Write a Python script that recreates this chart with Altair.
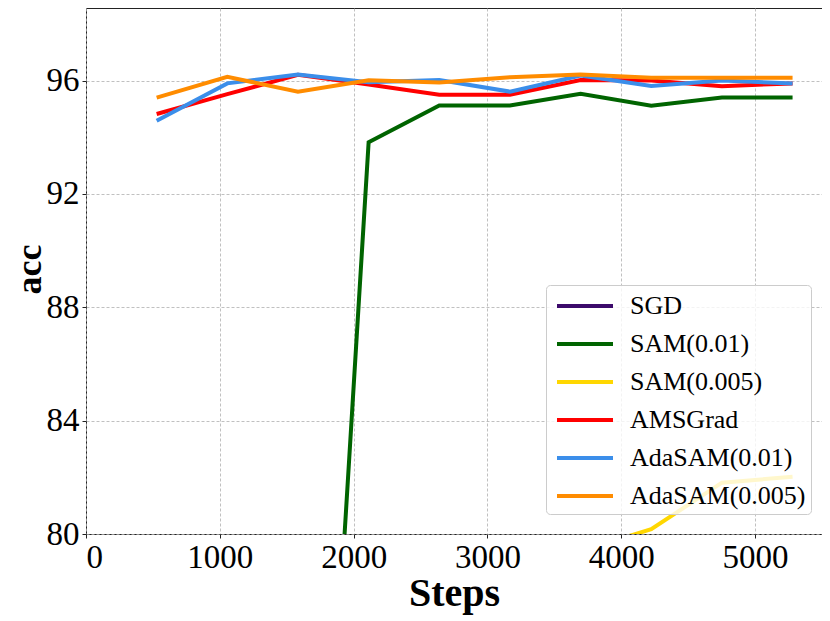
import altair as alt
import pandas as pd

steps = [528, 1056, 1584, 2112, 2640, 3168, 3696, 4224, 4752, 5280]
series_names = ["SGD", "SAM(0.01)", "SAM(0.005)", "AMSGrad", "AdaSAM(0.01)", "AdaSAM(0.005)"]
series_colors = ["#3c0a6b", "#006400", "#ffd700", "#ff0000", "#3b8eea", "#ff8c00"]

sgd = [10.0, 10.0, 10.0, 10.0, 10.0, 10.0, 10.0, 10.0, 10.0, 10.0]
sam_001 = [10.0, 10.0, 53.2, 93.82, 95.12, 95.12, 95.53, 95.11, 95.40, 95.40]
sam_0005 = [10.0, 10.0, 10.0, 30.0, 55.0, 70.0, 79.4, 80.17, 81.81, 82.02]
amsgrad = [94.82, 95.52, 96.20, 95.86, 95.50, 95.50, 96.02, 96.00, 95.80, 95.90]
adasam_001 = [94.58, 95.90, 96.21, 95.94, 96.02, 95.61, 96.18, 95.81, 96.00, 95.90]
adasam_0005 = [95.40, 96.13, 95.61, 96.01, 95.93, 96.12, 96.21, 96.10, 96.10, 96.10]

all_series = [sgd, sam_001, sam_0005, amsgrad, adasam_001, adasam_0005]

rows = []
for name, vals in zip(series_names, all_series):
    for s, v in zip(steps, vals):
        rows.append({"Steps": s, "acc": v, "method": name})
df = pd.DataFrame(rows)

FONT = "Liberation Serif"

color = alt.Color(
    "method:N",
    scale=alt.Scale(domain=series_names, range=series_colors),
    sort=series_names,
    legend=alt.Legend(
        title=None,
        orient="none",
        legendX=460,
        legendY=277,
        padding=5,
        rowPadding=9,
        labelFont=FONT,
        labelFontSize=26,
        labelColor="black",
        labelLimit=400,
        labelOffset=43,
        symbolType="M-1,0H3",
        symbolSize=784,
        symbolOffset=4,
        symbolStrokeWidth=4,
        fillColor="rgba(255,255,255,0.8)",
        strokeColor="#cccccc",
        cornerRadius=4,
    ),
)

x = alt.X(
    "Steps:Q",
    scale=alt.Scale(domain=[0, 5500], nice=False),
    axis=alt.Axis(
        values=[0, 1000, 2000, 3000, 4000, 5000],
        format="d",
        title="Steps",
        titleBaseline="alphabetic",
        titleY=71,
    ),
)
y = alt.Y(
    "acc:Q",
    scale=alt.Scale(domain=[80, 98.56], nice=False, zero=False),
    axis=alt.Axis(
        values=[80, 84, 88, 92, 96],
        title="acc",
        titleFontSize=36,
        titleBaseline="alphabetic",
        titleX=-46,
        titleY=261,
    ),
)

layers = []
for name in series_names:
    layers.append(
        alt.Chart(df)
        .transform_filter(alt.datum.method == name)
        .mark_line(clip=True, strokeWidth=4)
        .encode(x=x, y=y, color=color)
    )

chart = (
    alt.layer(*layers)
    .properties(
        width=736,
        height=526,
        autosize=alt.AutoSizeParams(type="none"),
        padding={"left": 78, "top": 0, "right": 0, "bottom": 87},
    )
    .configure_view(stroke="#222222", strokeWidth=1)
    .configure_axis(
        labelFont=FONT,
        labelFontSize=33,
        labelColor="black",
        titleFont=FONT,
        titleFontSize=40,
        titleFontWeight="bold",
        titleColor="black",
        tickColor="#222222",
        tickSize=4,
        tickWidth=1,
        labelPadding=3,
        domain=False,
        gridColor="#b0b0b0",
        gridDash=[3, 2],
        gridWidth=0.8,
    )
)

chart.save("out.html", embed_options={"renderer": "svg", "actions": False})
